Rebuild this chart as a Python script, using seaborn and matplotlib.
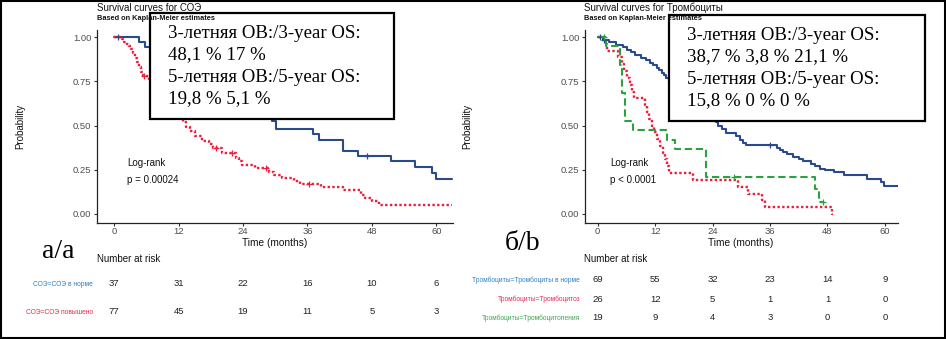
import numpy as np
import pandas as pd
import matplotlib
matplotlib.use("Agg")
import matplotlib.pyplot as plt
import matplotlib.transforms as mtransforms
from matplotlib.patches import Rectangle
import seaborn as sns

sns.set_theme(style="ticks")
plt.rcParams['font.family'] = ['Liberation Sans', 'DejaVu Sans']

# Kaplan-Meier steps: event time (months) -> survival after the event
esr_norm_t = [4.7, 5.8, 8.0, 10.5, 11.5, 14.0, 16.0, 18.0, 19.5, 21.0, 22.5, 24.5, 26.0, 27.5,
              28.5, 29.4, 30.2, 37.1, 38.1, 42.7, 45.5, 51.6, 56.0, 59.2, 60.0]
esr_norm_s = [0.973, 0.946, 0.919, 0.892, 0.865, 0.838, 0.811, 0.784, 0.757, 0.730, 0.703, 0.670,
              0.635, 0.600, 0.565, 0.523, 0.480, 0.450, 0.418, 0.358, 0.330, 0.297, 0.264, 0.230, 0.197]
esr_norm_end = 62.9
esr_norm_cens = [0.8, 47.1]

esr_high_t = [1.4, 1.8, 2.3, 2.8, 3.2, 3.5, 3.9, 4.2, 4.6, 5.0, 5.3, 6.4, 7.2, 7.8, 8.5, 9.2,
              10.0, 10.8, 11.5, 12.3, 12.9, 13.4, 14.1, 15.0, 16.3, 17.6, 18.4, 20.0, 22.6, 23.2,
              23.8, 26.3, 28.8, 29.8, 31.2, 33.5, 34.6, 38.6, 42.7, 46.0, 46.8, 48.0, 49.3]
esr_high_s = [0.987, 0.974, 0.961, 0.948, 0.935, 0.909, 0.883, 0.857, 0.831, 0.805, 0.779, 0.753,
              0.727, 0.701, 0.675, 0.649, 0.623, 0.597, 0.571, 0.545, 0.519, 0.493, 0.467, 0.441,
              0.415, 0.398, 0.372, 0.345, 0.316, 0.297, 0.278, 0.259, 0.240, 0.222, 0.204, 0.186,
              0.170, 0.152, 0.135, 0.110, 0.090, 0.072, 0.051]
esr_high_end = 62.9
esr_high_cens = [5.5, 19.0, 21.9, 28.2, 36.2]

plt_norm_t = [1.2, 2.4, 3.8, 5.2, 6.2, 7.0, 7.8, 9.0, 10.2, 10.9, 11.6, 12.3, 12.9, 13.4, 13.9,
              14.3, 14.8, 15.5, 16.5, 17.5, 18.5, 19.5, 20.5, 21.5, 22.5, 23.5, 24.3, 24.8, 25.2,
              26.0, 26.9, 29.0, 29.8, 30.4, 31.0, 37.4, 38.0, 38.8, 39.5, 40.9, 42.0, 43.0, 44.5,
              45.5, 46.5, 47.5, 49.3, 51.4, 56.3, 59.1, 59.8]
plt_norm_s = [0.986, 0.971, 0.957, 0.942, 0.928, 0.913, 0.899, 0.884, 0.870, 0.855, 0.841, 0.826,
              0.812, 0.797, 0.783, 0.768, 0.739, 0.720, 0.700, 0.680, 0.660, 0.640, 0.620, 0.600,
              0.580, 0.560, 0.540, 0.520, 0.500, 0.480, 0.460, 0.440, 0.420, 0.400, 0.388, 0.375,
              0.363, 0.350, 0.337, 0.324, 0.310, 0.297, 0.284, 0.270, 0.257, 0.250, 0.237, 0.220,
              0.200, 0.180, 0.158]
plt_norm_end = 62.75
plt_norm_cens = [0.5, 1.4, 36.0]

plt_cytosis_t = [1.6, 1.9, 4.3, 5.0, 5.6, 6.2, 6.8, 7.2, 7.5, 9.8, 10.3, 10.8, 11.3, 11.8, 12.4,
                 13.0, 13.6, 14.0, 14.4, 14.8, 20.0, 29.3, 31.4, 34.3, 35.0, 49.0]
plt_cytosis_s = [0.962, 0.923, 0.885, 0.846, 0.808, 0.769, 0.731, 0.692, 0.654, 0.615, 0.577,
                 0.538, 0.500, 0.462, 0.423, 0.385, 0.346, 0.308, 0.269, 0.231, 0.192, 0.154,
                 0.115, 0.077, 0.038, 0.0]
plt_cytosis_end = 49.1
plt_cytosis_cens = []

plt_penia_t = [1.8, 4.7, 5.0, 5.7, 7.4, 14.4, 16.2, 22.6, 45.4, 46.2]
plt_penia_s = [0.947, 0.842, 0.684, 0.526, 0.474, 0.421, 0.368, 0.211, 0.141, 0.070]
plt_penia_end = 47.3
plt_penia_cens = [1.4, 28.4, 47.0]

risk_times = [0, 12, 24, 36, 48, 60]
esr_norm_risk = [37, 31, 22, 16, 10, 6]
esr_high_risk = [77, 45, 19, 11, 5, 3]
plt_norm_risk = [69, 55, 32, 23, 14, 9]
plt_cytosis_risk = [26, 12, 5, 1, 1, 0]
plt_penia_risk = [19, 9, 4, 3, 0, 0]

BLUE = "#2b4a8c"
RED = "#e8203f"
GREEN = "#2ba23f"
LAB_BLUE = "#2f7fc0"
LAB_RED = "#e62a52"
LAB_GREEN = "#3aa84a"

W, H = 946, 339
fig = plt.figure(figsize=(W / 100, H / 100), dpi=100)
fig.patch.set_facecolor("white")


def px_axes(x0, y0, x1, y1):
    return fig.add_axes([x0 / W, 1 - y1 / H, (x1 - x0) / W, (y1 - y0) / H])


def km_frame(t, s, end):
    return pd.DataFrame({"time": [0.0] + list(t) + [end], "surv": [1.0] + list(s) + [s[-1]]})


def surv_at(t, s, tc):
    times = np.array([0.0] + list(t))
    vals = np.array([1.0] + list(s))
    idx = np.searchsorted(times, tc, side="right") - 1
    return vals[idx]


def draw_curve(ax, t, s, end, cens, color, ls, lw):
    df = km_frame(t, s, end)
    sns.lineplot(data=df, x="time", y="surv", ax=ax, color=color, linestyle=ls, linewidth=lw,
                 drawstyle="steps-post", estimator=None, sort=False, legend=False)
    if cens:
        cy = surv_at(t, s, np.array(cens))
        sns.scatterplot(x=cens, y=cy, ax=ax, marker="+", s=20, color=color, linewidth=0.9,
                        legend=False, zorder=5)


def style_axes(ax, xlim):
    ax.set_xlim(*xlim)
    ax.set_ylim(-0.051, 1.04)
    ax.set_xticks(risk_times)
    ax.set_yticks([0, 0.25, 0.5, 0.75, 1.0])
    ax.set_yticklabels(["0.00", "0.25", "0.50", "0.75", "1.00"])
    ax.set_xlabel("")
    ax.set_ylabel("")
    ax.tick_params(labelsize=6.8, labelcolor="#4d4d4d", length=2.5, width=0.8, color="#333333", pad=1.5)
    ax.tick_params(axis="x", pad=0.5)
    for side in ["top", "right"]:
        ax.spines[side].set_visible(False)
    for side in ["left", "bottom"]:
        ax.spines[side].set_linewidth(0.9)
        ax.spines[side].set_color("#222222")
    ax.set_facecolor("white")


ax1 = px_axes(97, 30, 453, 223)
draw_curve(ax1, esr_norm_t, esr_norm_s, esr_norm_end, esr_norm_cens, BLUE, "-", 1.5)
draw_curve(ax1, esr_high_t, esr_high_s, esr_high_end, esr_high_cens, RED, (0, (1.0, 1.0)), 1.7)
style_axes(ax1, (-3.2, 63.1))

ax2 = px_axes(585, 30, 898, 223)
draw_curve(ax2, plt_norm_t, plt_norm_s, plt_norm_end, plt_norm_cens, BLUE, "-", 1.5)
draw_curve(ax2, plt_cytosis_t, plt_cytosis_s, plt_cytosis_end, plt_cytosis_cens, RED, (0, (1.0, 1.0)), 1.7)
draw_curve(ax2, plt_penia_t, plt_penia_s, plt_penia_end, plt_penia_cens, GREEN, (0, (3.5, 1.8)), 1.5)
style_axes(ax2, (-2.65, 62.75))

# overlay in pixel coordinates for texts, boxes and the frame
ov = fig.add_axes([0, 0, 1, 1], zorder=10)
ov.set_xlim(0, W)
ov.set_ylim(H, 0)
ov.axis("off")

SERIF = ['Liberation Serif', 'DejaVu Serif']

for x0, title in [(97, "Survival curves for СОЭ"), (584, "Survival curves for Тромбоциты")]:
    ov.text(x0, 8, title, fontsize=7, ha="left", va="center", color="#111111")
    ov.text(x0, 19, "Based on Kaplan-Meier estimates", fontsize=5.3, fontweight="bold",
            ha="left", va="center", color="#111111")

for x0 in [20, 467]:
    ov.text(x0, 126, "Probability", fontsize=7, rotation=90, ha="center", va="center", color="#111111")
for x0 in [275, 741]:
    ov.text(x0, 243, "Time (months)", fontsize=7.3, ha="center", va="center", color="#111111")

ov.text(127, 163, "Log-rank", fontsize=7, ha="left", va="center", color="#111111")
ov.text(127, 180, "p = 0.00024", fontsize=7, ha="left", va="center", color="#111111")
ov.text(610, 163, "Log-rank", fontsize=7, ha="left", va="center", color="#111111")
ov.text(610, 180, "p < 0.0001", fontsize=7, ha="left", va="center", color="#111111")

boxes = [
    (150, 13, 244, 106, 168, [33, 55, 77, 99],
     ["3-летняя ОВ:/3-year OS:", "48,1 % 17 %", "5-летняя ОВ:/5-year OS:", "19,8 % 5,1 %"]),
    (669, 15, 256, 106, 687, [35, 57, 79, 101],
     ["3-летняя ОВ:/3-year OS:", "38,7 % 3,8 % 21,1 %", "5-летняя ОВ:/5-year OS:", "15,8 % 0 % 0 %"]),
]
for bx, by, bw, bh, tx, tys, lines in boxes:
    ov.add_patch(Rectangle((bx, by), bw, bh, facecolor="white", edgecolor="black", linewidth=1.6))
    for ty, line in zip(tys, lines):
        ov.text(tx, ty, line, fontsize=13.6, family=SERIF, ha="left", va="center", color="black")

ov.text(58, 251, "а/a", fontsize=20, family=SERIF, ha="center", va="center", color="black")
ov.text(523, 244, "б/b", fontsize=20, family=SERIF, ha="center", va="center", color="black")

ov.text(97, 259, "Number at risk", fontsize=7, ha="left", va="center", color="#111111")
ov.text(584, 259, "Number at risk", fontsize=7, ha="left", va="center", color="#111111")

tables = [
    (ax1, 93, [(284, "СОЭ=СОЭ в норме", LAB_BLUE, esr_norm_risk),
               (312, "СОЭ=СОЭ повышено", LAB_RED, esr_high_risk)]),
    (ax2, 580, [(280, "Тромбоциты=Тромбоциты в норме", LAB_BLUE, plt_norm_risk),
                (299, "Тромбоциты=Тромбоцитоз", LAB_RED, plt_cytosis_risk),
                (318, "Тромбоциты=Тромбоцитопения", LAB_GREEN, plt_penia_risk)]),
]
for ax, lx, rows in tables:
    trans = mtransforms.blended_transform_factory(ax.transData, ov.transData)
    for ry, label, col, counts in rows:
        ov.text(lx, ry, label, fontsize=4.8, ha="right", va="center", color=col)
        for t, n in zip(risk_times, counts):
            ov.text(t, ry, str(n), transform=trans, fontsize=6.8, ha="center", va="center",
                    color="#222222")

ov.add_patch(Rectangle((1, 1), W - 2.5, H - 2.5, facecolor="none", edgecolor="black", linewidth=1.5))

fig.savefig("out.png", dpi=100)
